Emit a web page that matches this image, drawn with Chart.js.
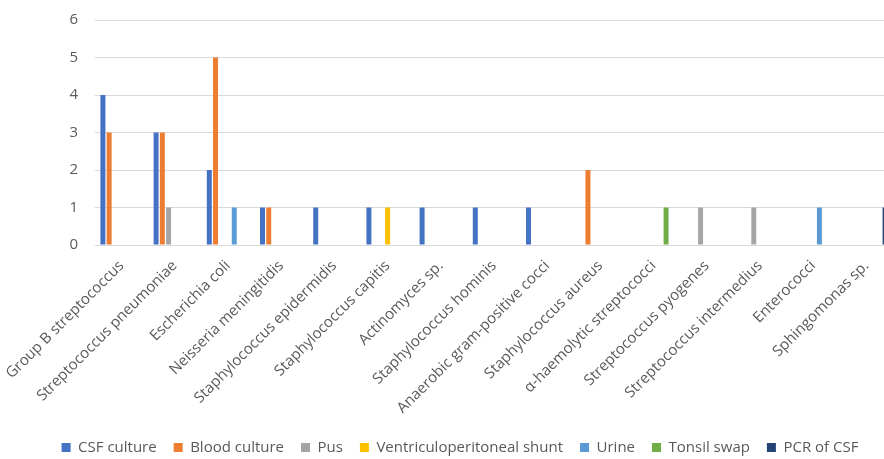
<!DOCTYPE html>
<html>
<head>
<meta charset="utf-8">
<script src="https://cdn.jsdelivr.net/npm/chart.js@4.4.0/dist/chart.umd.min.js"></script>
<style>
html,body{margin:0;padding:0;background:#fff;overflow:hidden;width:884px;height:459px;}
#wrap{width:900px;height:459px;}
</style>
</head>
<body>
<div id="wrap"><canvas id="c" width="900" height="459"></canvas></div>
<script>
const categories = [
  "Group B streptococcus","Streptococcus pneumoniae","Escherichia coli","Neisseria meningitidis",
  "Staphylococcus epidermidis","Staphylococcus capitis","Actinomyces sp.","Staphylococcus hominis",
  "Anaerobic gram-positive cocci","Staphylococcus aureus","α-haemolytic streptococci",
  "Streptococcus pyogenes","Streptococcus intermedius","Enterococci","Sphingomonas sp."
];
const csfCulture   = [4,3,2,1,1,1,1,1,1,null,null,null,null,null,null];
const bloodCulture = [3,3,5,1,null,null,null,null,null,2,null,null,null,null,null];
const pus          = [null,1,null,null,null,null,null,null,null,null,null,1,1,null,null];
const vpShunt      = [null,null,null,null,null,1,null,null,null,null,null,null,null,null,null];
const urine        = [null,null,1,null,null,null,null,null,null,null,null,null,null,1,null];
const tonsilSwap   = [null,null,null,null,null,null,null,null,null,null,1,null,null,null,null];
const pcrCsf       = [null,null,null,null,null,null,null,null,null,null,null,null,null,null,1];
const yTicks = [0,1,2,3,4,5,6];

const seriesNames = ["CSF culture","Blood culture","Pus","Ventriculoperitoneal shunt","Urine","Tonsil swap","PCR of CSF"];
const seriesData = [csfCulture,bloodCulture,pus,vpShunt,urine,tonsilSwap,pcrCsf];
const colors = ["#4472C4","#ED7D31","#A5A5A5","#FFC000","#5B9BD5","#70AD47","#264478"];

const FONT = "'Open Sans',sans-serif";

new Chart(document.getElementById('c'), {
  type: 'bar',
  data: {
    labels: categories,
    datasets: seriesNames.map((n,i)=>({
      label: n,
      data: seriesData[i],
      backgroundColor: colors[i],
      borderWidth: 0,
      barPercentage: 0.8,
      categoryPercentage: 0.82
    }))
  },
  options: {
    responsive: false,
    animation: false,
    layout: { padding: { left: 27, right: 7, top: 20, bottom: -6 } },
    plugins: {
      tooltip: { enabled: false },
      legend: {
        position: 'bottom',
        labels: {
          boxWidth: 9, boxHeight: 9, padding: 17,
          color: '#595959',
          font: { family: FONT, size: 15 }
        }
      }
    },
    scales: {
      x: {
        afterFit: s => { s.height = 178; },
        grid: { display: false },
        border: { display: true, color: '#d9d9d9', width: 1 },
        ticks: {
          minRotation: 45, maxRotation: 45, autoSkip: false,
          color: '#595959', padding: 4,
          font: { family: FONT, size: 15 }
        }
      },
      y: {
        min: 0, max: 6,
        afterBuildTicks: s => { s.ticks = yTicks.map(v=>({value:v})); },
        afterFit: s => { s.width = 68; s.paddingTop = 0; },
        grid: { color: '#d9d9d9', lineWidth: 1, drawTicks: false },
        border: { display: false },
        ticks: {
          color: '#595959', padding: 17,
          font: { family: FONT, size: 15 }
        }
      }
    }
  }
});
</script>
</body>
</html>
